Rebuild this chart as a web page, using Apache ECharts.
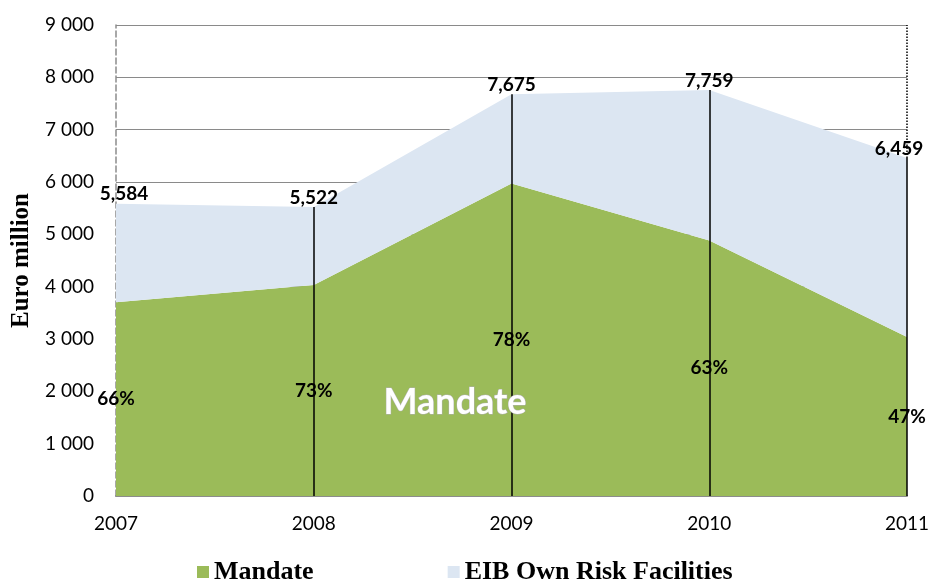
<!DOCTYPE html>
<html>
<head>
<meta charset="utf-8">
<script src="https://cdn.jsdelivr.net/npm/echarts@6/dist/echarts.min.js"></script>
<style>
  html, body { margin: 0; padding: 0; background: #fff; }
  #chart { width: 931px; height: 581px; }
</style>
</head>
<body>
<div id="chart"></div>
<script>
// years and values
var years = ['2007', '2008', '2009', '2010', '2011']
var totals = [5584, 5522, 7675, 7759, 6459]
var mandate = [3700, 4030, 5970, 4880, 3040]
var shares = ['66%', '73%', '78%', '63%', '47%']
var yTicks = [0, 1000, 2000, 3000, 4000, 5000, 6000, 7000, 8000, 9000]

var ownRisk = totals.map(function (t, i) { return t - mandate[i] })

var chart = echarts.init(document.getElementById('chart'))

// vertical black lines from 0 up to the total (not at 2007, the axis is there)
var vLines = []
for (var i = 1; i < years.length; i++) {
  vLines.push([{ coord: [i, 0] }, { coord: [i, totals[i]] }])
}

var labelFont = 'Lato, "Open Sans", sans-serif'
var serifFont = '"Liberation Serif", "Times New Roman", serif'

var option = {
  animation: false,
  grid: { left: 116, right: 24, top: 25, bottom: 85, containLabel: false, outerBoundsMode: 'none' },
  legend: {
    top: 554,
    left: 192,
    itemGap: 134,
    itemWidth: 12,
    itemHeight: 12,
    icon: 'rect',
    textStyle: { fontFamily: serifFont, fontWeight: 'bold', fontSize: 26, color: '#000' },
    data: ['Mandate', 'EIB Own Risk Facilities']
  },
  xAxis: {
    type: 'category',
    data: years,
    boundaryGap: false,
    axisTick: { show: false },
    axisLine: { lineStyle: { color: '#8c8c8c', width: 2 } },
    axisLabel: { color: '#000', fontSize: 19, fontFamily: labelFont, margin: 18 },
    splitLine: { show: false }
  },
  yAxis: {
    type: 'value',
    min: 0,
    max: 9000,
    interval: 1000,
    name: 'Euro million',
    nameLocation: 'middle',
    nameGap: 81,
    nameTextStyle: { fontFamily: serifFont, fontWeight: 'bold', fontSize: 25, color: '#000' },
    axisLine: { show: true, lineStyle: { color: '#8c8c8c', type: 'dashed', width: 1.5 } },
    axisTick: { show: false },
    axisLabel: {
      color: '#000', fontSize: 19, fontFamily: labelFont, margin: 22,
      formatter: function (v) {
        if (yTicks.indexOf(v) < 0) return ''
        return v >= 1000 ? Math.floor(v / 1000) + ' 000' : String(v)
      }
    },
    splitLine: { lineStyle: { color: '#8a8a8a', width: 1.2 } }
  },
  graphic: [{
    type: 'text',
    left: 383,
    top: 384,
    z: 100,
    style: {
      text: 'Mandate',
      fontFamily: labelFont,
      fontWeight: 'bold',
      fontSize: 36,
      fill: '#ffffff',
      stroke: '#b0b0b0',
      lineWidth: 1,
      shadowColor: 'rgba(0,0,0,0.25)',
      shadowBlur: 2,
      shadowOffsetX: 1,
      shadowOffsetY: 1
    }
  }],
  series: [
    {
      name: 'Mandate',
      type: 'line',
      stack: 'total',
      data: mandate,
      symbol: 'none',
      lineStyle: { width: 0 },
      itemStyle: { color: '#9bbb59' },
      areaStyle: { color: '#9bbb59', opacity: 1 }
    },
    {
      name: 'EIB Own Risk Facilities',
      type: 'line',
      stack: 'total',
      data: ownRisk,
      symbol: 'none',
      lineStyle: { width: 0 },
      itemStyle: { color: '#dce6f2' },
      areaStyle: { color: '#dce6f2', opacity: 1 },
      markLine: {
        silent: true,
        symbol: 'none',
        label: { show: false },
        lineStyle: { color: '#000', type: 'solid', width: 1.5 },
        data: vLines.concat([[
          { coord: [years.length - 1, totals[years.length - 1]], lineStyle: { type: 'dotted', width: 1.5 } },
          { coord: [years.length - 1, 9000] }
        ]])
      }
    },
    {
      name: 'totals',
      type: 'scatter',
      symbolSize: 0,
      z: 6,
      data: totals.map(function (t, i) { return [i, t] }),
      label: {
        show: true,
        position: 'top',
        distance: 0,
        color: '#000',
        opacity: 1,
        fontWeight: 'bold',
        fontSize: 19,
        fontFamily: labelFont,
        formatter: function (p) {
          return String(totals[p.dataIndex]).replace(/(\d)(\d{3})$/, '$1,$2')
        }
      },
      labelLayout: function (p) {
        if (p.dataIndex === 0) return { dx: 8 }
        if (p.dataIndex === years.length - 1) return { dx: -8 }
        return {}
      }
    },
    {
      name: 'shares',
      type: 'scatter',
      symbolSize: 0,
      z: 6,
      data: mandate.map(function (m, i) { return [i, m / 2] }),
      label: {
        show: true,
        position: 'inside',
        color: '#000',
        opacity: 1,
        fontWeight: 'bold',
        fontSize: 19,
        fontFamily: labelFont,
        formatter: function (p) { return shares[p.dataIndex] }
      }
    }
  ]
}

chart.setOption(option)
</script>
</body>
</html>
